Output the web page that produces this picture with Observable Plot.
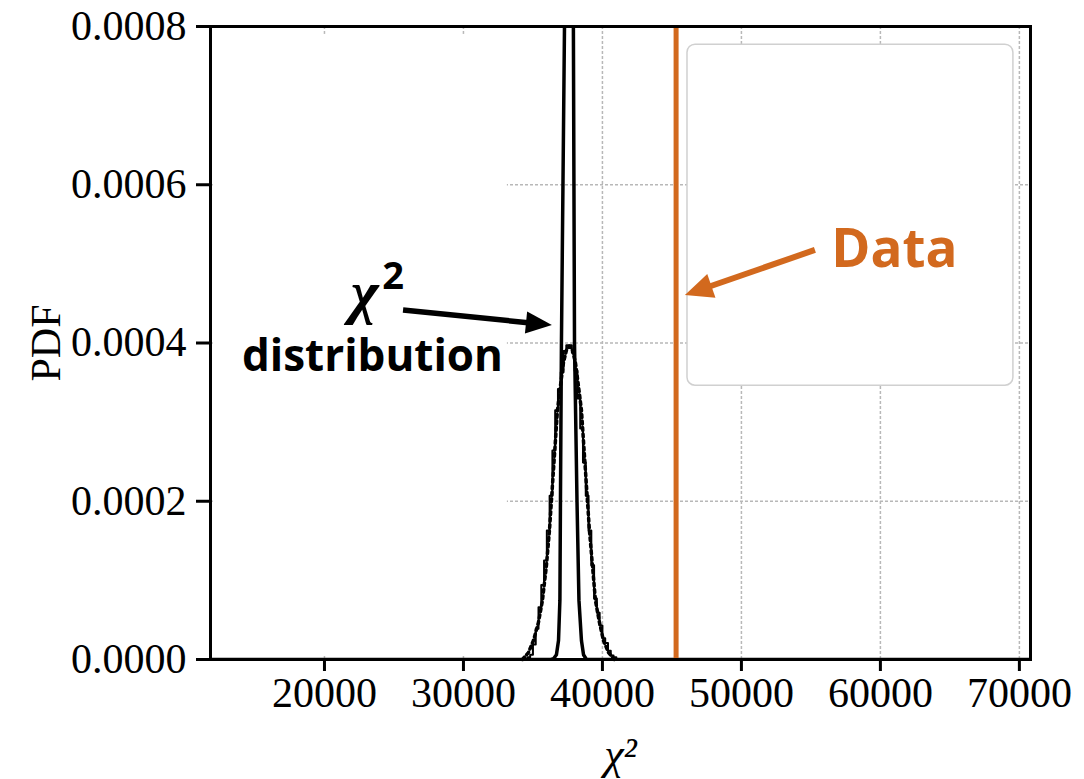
<!DOCTYPE html>
<html>
<head>
<meta charset="utf-8">
<script src="https://cdn.jsdelivr.net/npm/d3@7"></script>
<script src="https://cdn.jsdelivr.net/npm/@observablehq/plot@0.6"></script>
<style>
  html, body { margin: 0; padding: 0; background: #fff; }
  #chart svg { display: block; }
</style>
</head>
<body>
<div id="chart"></div>
<script>
// ---- data ----
const xTicks = [20000, 30000, 40000, 50000, 60000, 70000];
const yTicks = [0, 0.0002, 0.0004, 0.0006, 0.0008];
const gridYValues = [0.0002, 0.0004, 0.0006];
const xLabel = "χ²";
const yLabel = "PDF";

// chi-square pdf curve (black, clipped at top)
const chiX = [11800, 36300, 36480, 36690, 36840, 36940, 36980, 37050, 37160, 37270, 37420, 37590, 37760, 37910, 37950, 37990, 38170, 38310, 38490, 38640, 38850, 70800];
const chiY = [0, 0, 0.000001, 0.000006, 0.000024, 0.000075, 0.0002, 0.0004, 0.0006, 0.0008, 0.0011, 0.00125, 0.0011, 0.0008, 0.0006, 0.0004, 0.0002, 0.000075, 0.000024, 0.000006, 0, 0];

// step histogram of simulated chi-square values
const binEdges = [34600, 34800, 35000, 35200, 35400, 35600, 35800, 36000, 36200, 36400, 36600, 36800, 37000, 37200, 37400, 37600, 37800, 38000, 38200, 38400, 38600, 38800, 39000, 39200, 39400, 39600, 39800, 40000, 40200, 40400, 40600, 40800, 41000];
const binHeights = [0.000003, 0.000006, 0.000019, 0.000039, 0.000066, 0.000094, 0.000125, 0.000163, 0.000207, 0.000264, 0.000315, 0.000342, 0.000363, 0.000390, 0.000397, 0.000397, 0.000388, 0.000365, 0.000330, 0.000292, 0.000249, 0.000207, 0.000163, 0.000119, 0.000077, 0.000059, 0.000043, 0.000027, 0.000021, 0.000011, 0.000005, 0.000003];

// dotted envelope curve
const dotX = [34245, 34677, 35037, 35396, 35684, 35972, 36188, 36332, 36475, 36619, 36763, 36979, 37195, 37411, 37626, 37842, 38058, 38274, 38490, 38634, 38778, 38921, 39065, 39281, 39497, 39785, 40072, 40432, 40864];
const dotY = [0, 0.0000088, 0.000024, 0.0000468, 0.0000746, 0.000119, 0.000163, 0.000201, 0.000239, 0.000277, 0.000315, 0.000346, 0.000375, 0.000391, 0.000396, 0.000391, 0.000375, 0.000346, 0.000315, 0.000277, 0.000239, 0.000201, 0.000163, 0.000119, 0.0000746, 0.0000468, 0.000024, 0.0000088, 0];

// observed data value
const dataValue = [45300];

// boxes (data coordinates)
const coverBox = [{x1: 12000, x2: 33160, y1: 0.000005, y2: 0.00079}];
const legendBox = [{x1: 46120, x2: 69570, y1: 0.000346, y2: 0.000777}];

// annotations (data coordinates)
const annChi = [{text: "χ", x: 22900, y: 0.000463}];
const annTwo = [{text: "2", x: 24930, y: 0.000483}];
const annDist = [{text: "distribution", x: 23454, y: 0.000383}];
const annData = [{text: "Data", x: 61007, y: 0.000517}];
const arrows = [
  {x1: 25690, y1: 0.000441, x2: 36400, y2: 0.000422, color: "#000000", width: 5.5, len: 26, head: 22},
  {x1: 55325, y1: 0.000517, x2: 45970, y2: 0.000460, color: "#d2691e", width: 6, len: 28, head: 25}
];

// ---- build tables ----
const chiData = chiX.map((x, i) => ({x, y: chiY[i]}));
const histData = [{x: binEdges[0], y: 0}]
  .concat(binHeights.map((h, i) => ({x: binEdges[i], y: h})))
  .concat([{x: binEdges[binEdges.length - 1], y: 0}]);
const dotData = dotX.map((x, i) => ({x, y: dotY[i]}));

const ORANGE = "#d2691e";

const plot = Plot.plot({
  width: 1084,
  height: 779,
  marginLeft: 210,
  marginRight: 54,
  marginTop: 26,
  marginBottom: 120,
  style: {fontFamily: "'Liberation Serif', serif", fontSize: "42px", background: "white", color: "black", overflow: "visible"},
  x: {domain: [11800, 70800]},
  y: {domain: [0, 0.0008]},
  marks: [
    Plot.gridX(xTicks, {stroke: "#b8b8b8", strokeOpacity: 1, strokeWidth: 1.5, strokeDasharray: "3,2"}),
    Plot.gridY(gridYValues, {stroke: "#b8b8b8", strokeOpacity: 1, strokeWidth: 1.5, strokeDasharray: "3,2"}),
    Plot.rect(coverBox, {x1: "x1", x2: "x2", y1: "y1", y2: "y2", fill: "white"}),
    Plot.rect(legendBox, {x1: "x1", x2: "x2", y1: "y1", y2: "y2", fill: "white", stroke: "#d0d0d0", strokeWidth: 1.5, rx: 8}),
    Plot.line(histData, {x: "x", y: "y", curve: "step-after", stroke: "black", strokeWidth: 2}),
    Plot.line(dotData, {x: "x", y: "y", stroke: "black", strokeWidth: 3.5, strokeDasharray: "3,3.5"}),
    Plot.line(chiData, {x: "x", y: "y", stroke: "black", strokeWidth: 3.5, clip: true}),
    Plot.ruleX(dataValue, {stroke: ORANGE, strokeWidth: 5}),
    Plot.axisX({ticks: xTicks, tickFormat: d3.format("d"), tickSize: 12, tickPadding: 6, strokeWidth: 3, label: null}),
    Plot.axisY({ticks: yTicks, tickFormat: d3.format(".4f"), tickSize: 14, tickPadding: 10, strokeWidth: 3, label: yLabel, labelAnchor: "center", labelArrow: "none", labelOffset: 180}),
    Plot.text([xLabel], {text: d => d, frameAnchor: "bottom", dy: 95, fontStyle: "italic", fontSize: 44, lineAnchor: "middle"}),
    Plot.frame({stroke: "black", strokeWidth: 3}),
    Plot.text(annChi, {x: "x", y: "y", text: "text", fontFamily: "'Liberation Serif', serif", fontStyle: "italic", fontWeight: "bold", fontSize: 60, fill: "black", lineAnchor: "middle"}),
    Plot.text(annTwo, {x: "x", y: "y", text: "text", fontFamily: "'Open Sans', sans-serif", fontWeight: "bold", fontSize: 38, fill: "black", lineAnchor: "middle"}),
    Plot.text(annDist, {x: "x", y: "y", text: "text", fontFamily: "'Open Sans', sans-serif", fontWeight: "bold", fontSize: 44, fill: "black", lineAnchor: "middle"}),
    Plot.text(annData, {x: "x", y: "y", text: "text", fontFamily: "'Open Sans', sans-serif", fontWeight: "bold", fontSize: 53, fill: ORANGE, lineAnchor: "middle"})
  ]
});

// arrows drawn through the plot's own scales
const sx = plot.scale("x"), sy = plot.scale("y");
const g = d3.select(plot).append("g").attr("class", "arrows");
for (const a of arrows) {
  const x1 = sx.apply(a.x1), y1 = sy.apply(a.y1);
  const x2 = sx.apply(a.x2), y2 = sy.apply(a.y2);
  const dx = x2 - x1, dy = y2 - y1, L = Math.hypot(dx, dy);
  const ux = dx / L, uy = dy / L, nx = -uy, ny = ux;
  const bx = x2 - ux * a.len, by = y2 - uy * a.len;
  g.append("line")
    .attr("x1", x1).attr("y1", y1)
    .attr("x2", bx + ux * 2).attr("y2", by + uy * 2)
    .attr("stroke", a.color).attr("stroke-width", a.width);
  g.append("polygon")
    .attr("points", [[x2, y2], [bx + nx * a.head / 2, by + ny * a.head / 2], [bx - nx * a.head / 2, by - ny * a.head / 2]].map(p => p.join(",")).join(" "))
    .attr("fill", a.color);
}

document.getElementById("chart").appendChild(plot);
</script>
</body>
</html>
